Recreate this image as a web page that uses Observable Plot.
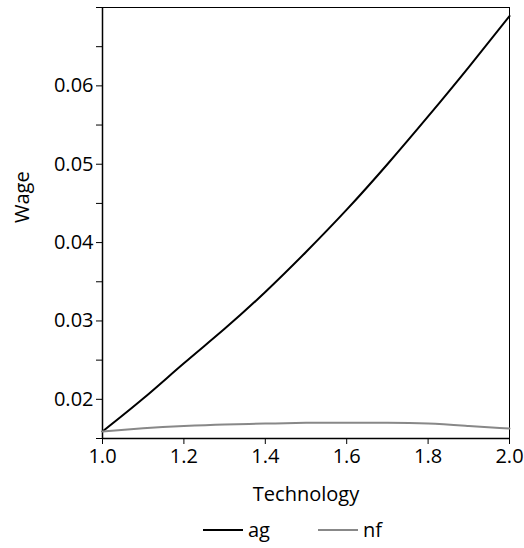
<!DOCTYPE html>
<html><head><meta charset="utf-8">
<script src="https://cdn.jsdelivr.net/npm/d3@7"></script>
<script src="https://cdn.jsdelivr.net/npm/@observablehq/plot@0.6"></script>
<style>
body{margin:0;background:#fff;font-family:"Open Sans",sans-serif;}
#chart svg text{font-size:20px;}
#legend{display:flex;justify-content:flex-start;align-items:center;font-size:20px;height:33px;margin-top:-2px;padding-left:203px;}
.item{display:flex;align-items:center;margin-right:48px;}
.sw{display:inline-block;width:40px;height:0;border-top:2px solid;margin-right:5px;}
</style></head>
<body>
<div id="chart"></div>
<div id="legend"></div>
<script>
const technology = [1.0,1.1,1.2,1.3,1.4,1.5,1.6,1.7,1.8,1.9,2.0];
const ag = [0.0159,0.0201,0.0246,0.0290,0.0337,0.0388,0.0442,0.0500,0.0561,0.0624,0.0689];
const nf = [0.0159,0.0163,0.0166,0.0168,0.0169,0.0170,0.0170,0.0170,0.0169,0.0166,0.01627];
const seriesNames = ["ag","nf"];
const seriesColors = ["#000000","#888888"];
const xTicks = [1.0,1.2,1.4,1.6,1.8,2.0];
const yMajor = [0.02,0.03,0.04,0.05,0.06];
const yMinor = [0.015,0.025,0.035,0.045,0.055,0.065,0.07];

const data = [];
technology.forEach((t,i)=>{
  data.push({t, w: ag[i], s:"ag"});
  data.push({t, w: nf[i], s:"nf"});
});

const chart = Plot.plot({
  width: 524, height: 515,
  marginTop: 7, marginLeft: 102, marginRight: 15, marginBottom: 77,
  style: {fontFamily: "'Open Sans', sans-serif", fontSize: "20px", color: "#000", background: "#fff"},
  x: {domain: [1, 2]},
  y: {domain: [0.015, 0.07]},
  color: {domain: seriesNames, range: seriesColors},
  marks: [
    Plot.frame({stroke: "#000", strokeWidth: 1}),
    Plot.axisX({ticks: xTicks, tickFormat: d3.format(".1f"), tickSize: 6, tickPadding: 4, label: null, fontSize: 20}),
    Plot.axisY({ticks: yMajor, tickFormat: d => d.toFixed(2), tickSize: 6, tickPadding: 3, label: null, fontSize: 20}),
    Plot.axisY({ticks: yMinor, tickFormat: () => "", tickSize: 6, label: null}),
    Plot.ruleX([1], {strokeWidth: 1.5}),
    Plot.ruleY([0.015], {strokeWidth: 1.5}),
    Plot.line(data, {x: "t", y: "w", z: "s", stroke: "s", strokeWidth: 2, curve: "natural"}),
    Plot.text(["Technology"], {frameAnchor: "bottom", dy: 56, lineAnchor: "middle", fontSize: 20}),
    Plot.text(["Wage"], {frameAnchor: "left", dx: -80, rotate: -90, lineAnchor: "middle", fontSize: 20})
  ]
});
document.getElementById("chart").appendChild(chart);

const legend = document.getElementById("legend");
seriesNames.forEach((n,i)=>{
  const it = document.createElement("span");
  it.className = "item";
  const sw = document.createElement("span");
  sw.className = "sw";
  sw.style.borderTopColor = seriesColors[i];
  it.appendChild(sw);
  it.appendChild(document.createTextNode(n));
  legend.appendChild(it);
});
</script>
</body></html>
